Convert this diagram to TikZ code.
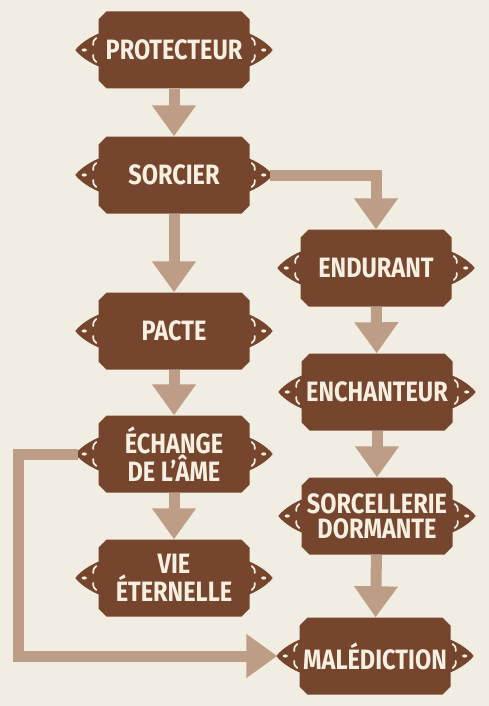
\documentclass[tikz,border=0pt]{standalone}
\usepackage{fontspec}
\newfontfamily\knotfont{Fira Sans}[FakeStretch=0.84]
\usetikzlibrary{arrows.meta}
\definecolor{bark}{RGB}{117,70,45}
\definecolor{sand}{RGB}{190,157,134}
\definecolor{parch}{RGB}{242,237,226}
\definecolor{cream}{RGB}{246,239,226}
\tikzset{
  talent/.style={rectangle, text=cream, inner sep=0pt,
    minimum width=151pt, minimum height=77pt, align=center,
    font=\knotfont\bfseries\fontsize{28}{25}\selectfont,
    path picture={
      \fill[bark] ([xshift=8pt]path picture bounding box.north west)
        -- ([xshift=-8pt]path picture bounding box.north east)
        -- ([yshift=-8pt]path picture bounding box.north east)
        -- ([yshift=8pt]path picture bounding box.south east)
        -- ([xshift=-8pt]path picture bounding box.south east)
        -- ([xshift=8pt]path picture bounding box.south west)
        -- ([yshift=8pt]path picture bounding box.south west)
        -- ([yshift=-8pt]path picture bounding box.north west) -- cycle;
    }},
  flow/.style={draw=sand, line width=11pt,
    -{Triangle[width=42pt,length=31pt]}},
  knot/.pic={
    \fill[bark] (2,17) .. controls (-4,15) and (-17,8) .. (-23,0)
      .. controls (-17,-8) and (-4,-15) .. (2,-17) -- cycle;
    \fill[cream] (-14,0) ellipse (2.6pt and 1.6pt);
    \draw[cream, line width=1.7pt, line cap=round]
      (-2,12) .. controls (-5,9) .. (-5,5)
      (-2,-12) .. controls (-5,-9) .. (-5,-5);
  }
}

\begin{document}
\begin{tikzpicture}[x=1pt, y=1pt]
  \fill[parch] (0,0) rectangle (489,-706);
  \useasboundingbox (0,0) rectangle (489,-706);

  % left column
  \node[talent] (protecteur) at (174,-50) {PROTECTEUR};
  \node[talent] (sorcier) at (174,-175) {SORCIER};
  \node[talent] (pacte) at (174,-331) {PACTE};
  \node[talent] (echange) at (174,-454) {ÉCHANGE\\DE L’ÂME};
  \node[talent] (vie) at (174,-578) {VIE\\ÉTERNELLE};
  % right column
  \node[talent] (endurant) at (376,-268) {ENDURANT};
  \node[talent] (enchanteur) at (377,-392) {ENCHANTEUR};
  \node[talent] (sorcellerie) at (377,-516) {SORCELLERIE\\DORMANTE};
  \node[talent] (malediction) at (375,-656) {MALÉDICTION};

  \foreach \n in {protecteur, sorcier, pacte, echange, vie,
                  endurant, enchanteur, sorcellerie, malediction} {
    \pic at (\n.west) {knot};
    \pic[xscale=-1] at (\n.east) {knot};
  }

  \draw[flow] (protecteur) -- (sorcier);
  \draw[flow] (sorcier) -- (pacte);
  \draw[flow] (pacte) -- (echange);
  \draw[flow] (echange) -- (vie);
  \draw[flow] ([xshift=20pt]sorcier.east) -| (endurant.north);
  \draw[flow] (endurant) -- (enchanteur);
  \draw[flow] (enchanteur) -- (sorcellerie);
  \draw[flow] (sorcellerie) -- (malediction);
  \draw[flow] ([xshift=-20pt]echange.west) -- ++(-60pt,0)
    |- ([xshift=-22pt]malediction.west);
\end{tikzpicture}
\end{document}
